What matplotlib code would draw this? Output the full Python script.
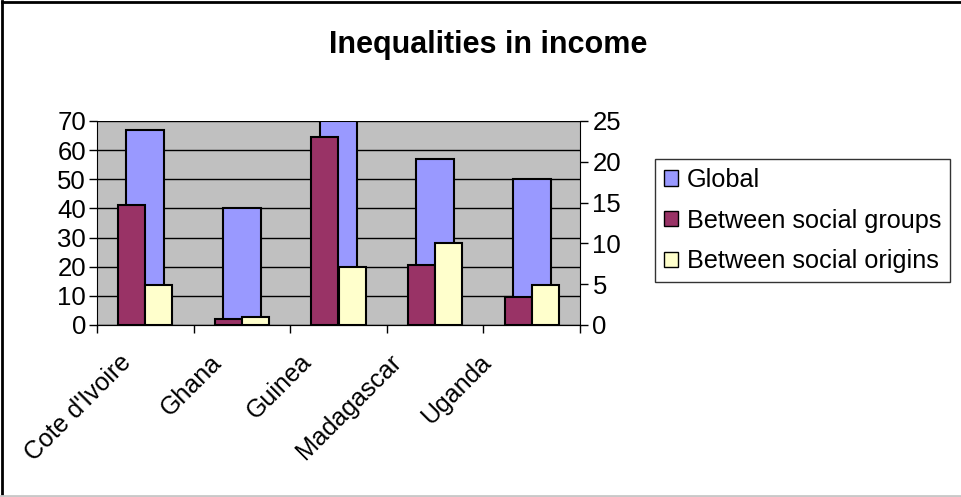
import numpy as np
import matplotlib.pyplot as plt
import matplotlib.transforms as mtransforms
from matplotlib.patches import Patch
from matplotlib.lines import Line2D

plt.rcParams['font.family'] = ['Liberation Sans', 'DejaVu Sans']

countries = ["Cote d'Ivoire", "Ghana", "Guinea", "Madagascar", "Uganda"]
global_ineq = [67, 40, 70, 57, 50]
between_groups = [14.7, 0.7, 23.0, 7.35, 3.4]
between_origins = [4.9, 1.0, 7.1, 10.0, 4.9]

fig = plt.figure(figsize=(9.61, 4.97), dpi=100)
ax = fig.add_axes([97 / 961, 1 - 325 / 497, 483 / 961, 204 / 497])
ax2 = ax.twinx()

x = np.arange(len(countries))

# primary axis: global inequality, wide bar behind
ax.set_facecolor('#C0C0C0')
ax.bar(x, global_ineq, width=0.39, color='#9999FF', edgecolor='black',
       linewidth=1.5, zorder=2)
ax.set_ylim(0, 70)
ax.set_yticks(range(0, 71, 10))
ax.yaxis.grid(True, color='black', linewidth=1, zorder=1)
ax.set_axisbelow(True)
ax.set_xlim(-0.5, len(countries) - 0.5)

# secondary axis: decomposition bars in front
w = 0.28
ax2.bar(x - w / 2, between_groups, width=w, color='#993366', edgecolor='black',
        linewidth=1.5)
ax2.bar(x + w / 2, between_origins, width=w, color='#FFFFCC', edgecolor='black',
        linewidth=1.5)
ax2.set_ylim(0, 25)
ax2.set_yticks(range(0, 26, 5))

ax.spines['top'].set_visible(False)
ax2.spines['top'].set_visible(False)
ax.spines['right'].set_visible(False)
ax2.spines['left'].set_visible(False)
ax2.spines['right'].set_color('black')

ax.tick_params(axis='y', labelsize=18.5, length=6, width=1, direction='out', pad=2)
ax2.tick_params(axis='y', labelsize=18.5, length=6, width=1, direction='out', pad=3)

# category ticks sit on the boundaries between countries
ax.set_xticks(np.arange(-0.5, len(countries), 1.0))
ax.set_xticklabels([])
ax.tick_params(axis='x', length=6, width=1, direction='out')
ax.set_xticks(x, minor=True)
ax.set_xticklabels(countries, minor=True, rotation=45, ha='right',
                   rotation_mode='anchor', fontsize=18)
ax.tick_params(axis='x', which='minor', length=0, pad=18)
for i, lbl in enumerate(ax.get_xticklabels(minor=True)):
    dx = -(26 + 6.7 * i) / 100
    lbl.set_transform(lbl.get_transform() +
                      mtransforms.ScaledTranslation(dx, 0, fig.dpi_scale_trans))

fig.text(488 / 961, 1 - 45 / 497, 'Inequalities in income', ha='center',
         va='center', fontsize=22, fontweight='bold')

handles = [Patch(facecolor='#9999FF', edgecolor='black'),
           Patch(facecolor='#993366', edgecolor='black'),
           Patch(facecolor='#FFFFCC', edgecolor='black')]
labels = ['Global', 'Between social groups', 'Between social origins']
leg = fig.legend(handles, labels, loc='upper left',
                 bbox_to_anchor=(655 / 961, 1 - 159 / 497), fontsize=18.2,
                 frameon=True, fancybox=False, edgecolor='black',
                 handlelength=0.55, handleheight=0.55, handletextpad=0.35,
                 labelspacing=0.66, borderpad=0.35, borderaxespad=0)
leg.get_frame().set_linewidth(1)

# chart area border
fig.add_artist(Line2D([2 / 961, 2 / 961], [0, 1 - 1 / 497], color='black',
                      linewidth=2, transform=fig.transFigure))
fig.add_artist(Line2D([2 / 961, 1], [1 - 1.5 / 497, 1 - 1.5 / 497],
                      color='black', linewidth=2, transform=fig.transFigure))
fig.add_artist(Line2D([0, 1], [1 / 497, 1 / 497], color='#C8C8C8',
                      linewidth=2, transform=fig.transFigure))

fig.savefig('out.png', dpi=100)
